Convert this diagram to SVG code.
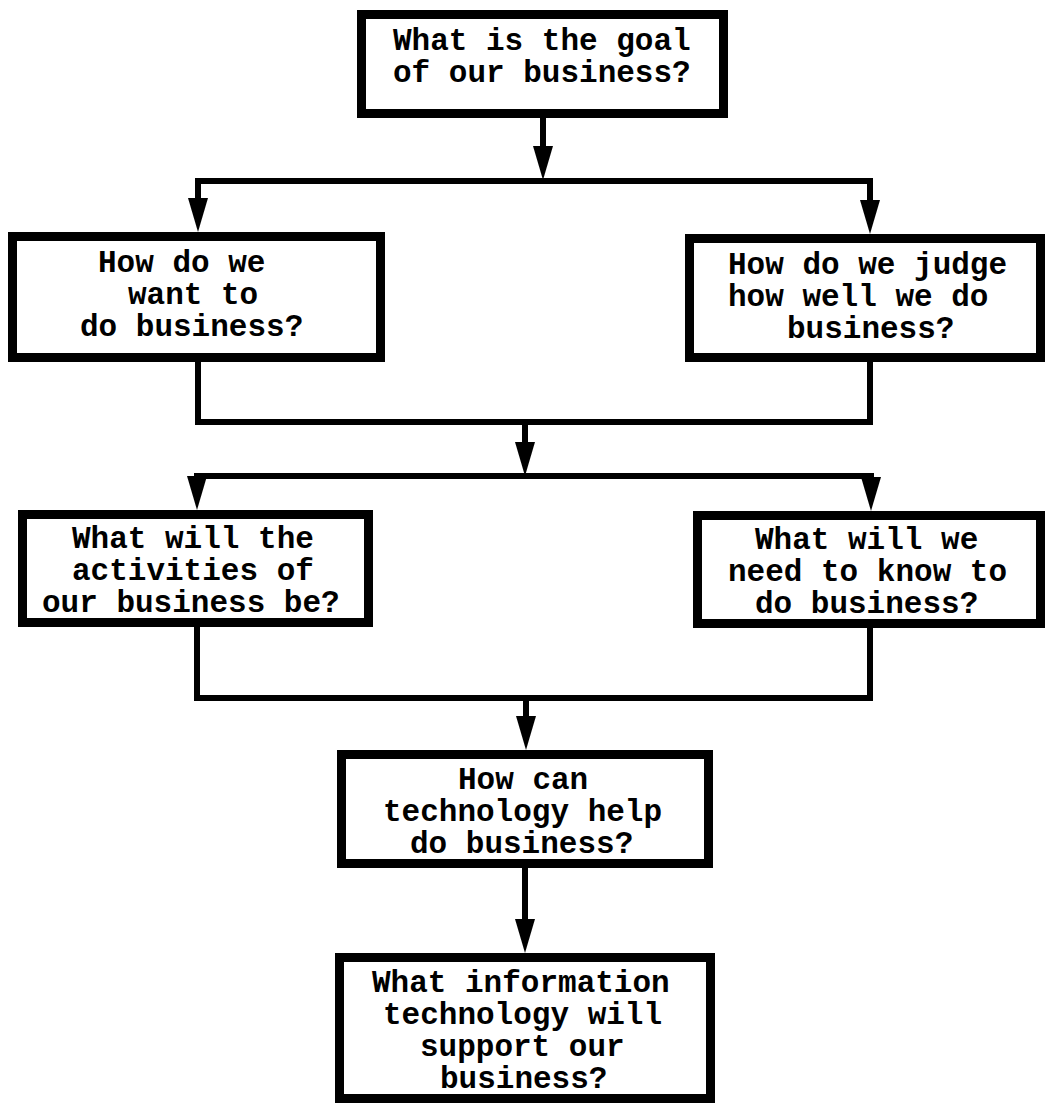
<svg xmlns="http://www.w3.org/2000/svg" width="1045" height="1103" viewBox="0 0 1045 1103">
<style>
.box{fill:#fff;stroke:#000;stroke-width:9}
.conn{fill:none;stroke:#000;stroke-width:6}
text{font-family:"Liberation Mono","Courier New",monospace;font-size:31px;font-weight:bold;fill:#000}
</style>
<defs>
<marker id="arr" markerUnits="userSpaceOnUse" markerWidth="36" markerHeight="22" refX="2" refY="11" orient="auto-start-reverse">
<path d="M0,1 L34,11 L0,21 z" fill="#000"/>
</marker>
</defs>
<rect width="1045" height="1103" fill="#fff"/>
<g id="connectors" class="conn">
<path d="M543,118 V148" marker-end="url(#arr)"/>
<path d="M198,200 V181 H870 V202" marker-start="url(#arr)" marker-end="url(#arr)"/>
<path d="M198,362 V422 H870 V362"/>
<path d="M525,422 V444" marker-end="url(#arr)"/>
<path d="M197,478 V476 H871 V479" marker-start="url(#arr)" marker-end="url(#arr)"/>
<path d="M197,627 V698 H870 V628"/>
<path d="M526,698 V718" marker-end="url(#arr)"/>
<path d="M525,868 V921" marker-end="url(#arr)"/>
</g>
<g id="goal">
<rect class="box" x="361.5" y="14.5" width="362" height="99"/>
<text x="393" y="50">What is the goal</text>
<text x="393" y="82">of our business?</text>
</g>
<g id="want">
<rect class="box" x="12.5" y="236.5" width="368" height="121"/>
<text x="98" y="272">How do we</text>
<text x="128" y="304">want to</text>
<text x="80" y="336">do business?</text>
</g>
<g id="judge">
<rect class="box" x="689.5" y="238.5" width="351" height="119"/>
<text x="728" y="274">How do we judge</text>
<text x="728" y="306">how well we do</text>
<text x="787" y="338">business?</text>
</g>
<g id="activities">
<rect class="box" x="22.5" y="514.5" width="346" height="108"/>
<text x="72" y="548">What will the</text>
<text x="72" y="580">activities of</text>
<text x="42" y="612">our business be?</text>
</g>
<g id="know">
<rect class="box" x="697.5" y="515.5" width="343" height="108"/>
<text x="755" y="549">What will we</text>
<text x="728" y="581">need to know to</text>
<text x="755" y="613">do business?</text>
</g>
<g id="technology">
<rect class="box" x="341.5" y="754.5" width="367" height="109"/>
<text x="458" y="789">How can</text>
<text x="383" y="821">technology help</text>
<text x="410" y="853">do business?</text>
</g>
<g id="infotech">
<rect class="box" x="339.5" y="957.5" width="371" height="141"/>
<text x="372" y="992">What information</text>
<text x="383" y="1024">technology will</text>
<text x="420" y="1056">support our</text>
<text x="440" y="1088">business?</text>
</g>
</svg>
